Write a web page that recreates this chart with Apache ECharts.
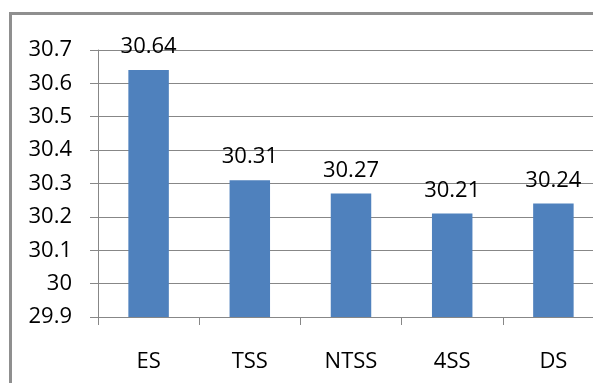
<!DOCTYPE html>
<html>
<head>
<meta charset="utf-8">
<script src="https://cdn.jsdelivr.net/npm/echarts@6/dist/echarts.min.js"></script>
<style>
  html, body { margin: 0; padding: 0; background: #fff; overflow: hidden; }
  #frame {
    position: absolute; left: 9px; top: 12px; width: 700px; height: 500px;
    border-left: 3px solid #8f8f8f; border-top: 3px solid #8f8f8f;
    box-sizing: border-box; pointer-events: none;
  }
  #chart { position: absolute; left: 0; top: 0; width: 620px; height: 383px; }
</style>
</head>
<body>
<div id="frame"></div>
<div id="chart"></div>
<script>
  // values
  const categories = ['ES', 'TSS', 'NTSS', '4SS', 'DS']
  const values = [30.64, 30.31, 30.27, 30.21, 30.24]
  const yMin = 29.9
  const yMax = 30.7
  const yStep = 0.1

  const chart = echarts.init(document.getElementById('chart'), null, { renderer: 'canvas' })
  const font = '"Open Sans", sans-serif'
  const gray = '#878787'

  const option = {
    animation: false,
    grid: { left: 98, right: 16, top: 50, bottom: 66, containLabel: false },
    xAxis: {
      type: 'category',
      data: categories,
      axisLine: { lineStyle: { color: gray, width: 1 } },
      axisTick: { show: true, length: 8, alignWithLabel: false, lineStyle: { color: gray } },
      axisLabel: { color: '#000', fontSize: 22, fontFamily: font, margin: 34 }
    },
    yAxis: {
      type: 'value',
      min: yMin,
      max: yMax,
      interval: yStep,
      axisLine: { show: true, lineStyle: { color: gray, width: 1 } },
      axisTick: { show: true, length: 8, lineStyle: { color: gray } },
      splitLine: { lineStyle: { color: gray, width: 1 } },
      axisLabel: {
        color: '#000', fontSize: 22, fontFamily: font, margin: 26,
        formatter: v => String(Math.round(v * 10) / 10)
      }
    },
    series: [{
      type: 'bar',
      data: values,
      barWidth: '40%',
      itemStyle: { color: '#4F81BD' },
      label: {
        show: true,
        position: 'top',
        distance: 12,
        color: '#000',
        fontSize: 22,
        fontFamily: font
      }
    }]
  }

  chart.setOption(option)
</script>
</body>
</html>
